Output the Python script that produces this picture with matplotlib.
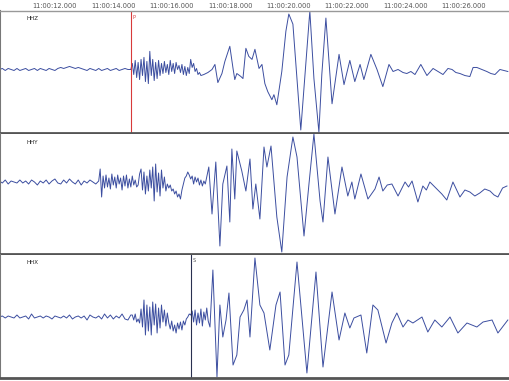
import numpy as np
import matplotlib.pyplot as plt

# seconds after 11:00:00
TICK_SECONDS = [12, 14, 16, 18, 20, 22, 24, 26]
TICK_LABELS = ['11:00:%02d.000' % s for s in TICK_SECONDS]
T_MIN, T_MAX = 10.12, 27.55

P_PICK = 14.62
S_PICK = 16.67

COR_TRACO = '#3c4ea0'

# ---- HHZ ----
HHZ_PRE_T0, HHZ_PRE_DT = 10.1, 0.1
HHZ_PRE = [0, 1, -1, 1, 0, -1, 1, -1, 0, 1, -1, 0, 1, -1, 1, 0, -1, 1, 0, -1,
           1, 2, 1, 2, 3, 2, 1, 2, 1, 0,
           -1, 1, 0, -1, 1, -1, 0, 1, -1, 0, 1, -1, 0, 1, 0, 0]
HHZ_CODA_T0, HHZ_CODA_DT = 14.6, 0.05
HHZ_CODA = [0, 6, -5, 9, -8, 7, -10, 10, -6,
            12, -12, 8, -14, 18, -6, 10, -11, 7, -9,
            9, -6, 6, -4, 8, -3, 5, -5, 9, -2,
            6, -4, 7, 0, 4, -3, 5, -5, 3, -6,
            2, -4, 10, 2, 6, -2, 1, -5, -3, -6]
HHZ_EV_T = [17.10, 17.24, 17.38, 17.48, 17.58, 17.72, 17.82, 17.99, 18.10, 18.16,
            18.23, 18.37, 18.44, 18.54, 18.64, 18.75, 18.85, 18.99, 19.09, 19.19,
            19.29, 19.43, 19.50, 19.60, 19.77, 19.91, 20.01, 20.15, 20.29, 20.42,
            20.60, 20.73, 20.87, 21.04, 21.14, 21.28, 21.38, 21.49, 21.73, 21.90,
            22.10, 22.27, 22.45, 22.58, 22.82, 23.03, 23.23, 23.44, 23.58, 23.75,
            23.92, 24.05, 24.19, 24.33, 24.53, 24.74, 24.95, 25.12, 25.29, 25.46,
            25.60, 25.73, 25.87, 26.04, 26.21, 26.32, 26.45, 26.62, 26.79, 26.93,
            27.07, 27.24, 27.38, 27.51]
HHZ_EV_A = [-5, -3, 0, 5, -13, -4, 8, 23, 1, -10,
            -4, -7, -9, 21, 13, 10, 20, 1, 5, -14,
            -22, -30, -25, -35, -2, 38, 55, 45, -9, -60,
            8, 58, -9, -62, -5, 51, 10, -34, 15, -15,
            9, -12, 5, -10, 15, 0, -17, 5, -2, 0,
            -3, -4, -2, -5, 5, -6, 1, -2, -5, 1,
            0, -3, -4, -6, -7, 2, 2, 0, -2, -4,
            -5, 0, -1, -2]

# ---- HHY ----
HHY_PRE_T0, HHY_PRE_DT = 10.1, 0.1
HHY_PRE = [1, -1, 2, -2, 1, 0, -1, 2, -1, 1, -2, 2, 0, -3, 1, -1, 2, -2, 1, 3,
           -1, -2, 2, -1, 3, 0, -2, 2, -3, 1, -1, 2, 0, -2, 1]
HHY_CODA_T0, HHY_CODA_DT = 13.55, 0.05
HHY_CODA = [13, -15, 6, -6, 7, -5, 4, -7, 8, -3, 5, -6, 7, -2, 4, -8, 6, -4, 7, -6,
            3, -5, 6, -3, 2, -5,
            -3, 8, 13, -8, 10, -12, 6, -9, 12, -6, 15, -19, 18, -10, 9, -14, 12, -6, 5, -9,
            -2, -6, -3, -9, -7, -12, -9, -15, -12, -17,
            -8, -2, 4, 6, 10, 7,
            3, 6, -2, 5, 0, 4, -3, 2, -4, 1, -2, 5]
HHY_EV_T = [17.27, 17.38, 17.51, 17.65, 17.75, 17.89, 17.99, 18.06, 18.16, 18.23,
            18.40, 18.54, 18.68, 18.78, 18.88, 19.02, 19.16, 19.26, 19.40, 19.60,
            19.77, 19.95, 20.15, 20.29, 20.53, 20.70, 20.87, 21.08, 21.18, 21.35,
            21.59, 21.83, 22.03, 22.17, 22.27, 22.48, 22.72, 22.96, 23.10, 23.23,
            23.38, 23.54, 23.75, 23.99, 24.11, 24.23, 24.43, 24.60, 24.72, 24.84,
            25.08, 25.25, 25.42, 25.63, 25.87, 26.04, 26.21, 26.38, 26.55, 26.72,
            26.90, 27.04, 27.17, 27.33, 27.48]
HHY_EV_A = [15, -32, 20, -64, -2, 16, -40, 33, -17, 31,
            11, -9, 23, -27, -2, -37, 35, 15, 36, -35,
            -70, 5, 45, 25, -54, -2, 48, -19, -40, 25,
            -32, 15, -14, 0, -17, 8, -17, -7, 5, -9,
            -3, -2, -14, 0, -5, 1, -20, -4, -8, 0,
            -7, -12, -18, 0, -15, -8, -10, -14, -11, -7,
            -9, -13, -15, -6, -4]

# ---- HHX ----
HHX_PRE_T0, HHX_PRE_DT = 10.1, 0.1
HHX_PRE = [0, 1, -1, 1, 0, -1, 2, -1, 0, 1, -2, 3, -1, 0, 1, -1, 1, 0, -2, 1,
           0, -1, 1, -1, 2, -2, 0, 1, -1, 1, -3, 2, 0, -1, 1, -2, 3, -1, 2, -2,
           1, -1, 3, -2, -3, 2]
HHX_CODA_T0, HHX_CODA_DT = 14.65, 0.05
HHX_CODA = [2, -3, 3, -5, -2, -6,
            8, -10, 17, -18, 12, -14, 10, -18, 15, -8, 13, -16, 9, -11, 12, -5, 7, -9, 4,
            -6, -12, -4, -14, -8, -16, -6, -12, -5, -13, -4, -8, -2,
            0, 3, 2, 6, -5, 7, -8, 4, -6, 8, -9, 5, -3, 9, -4]
HHX_EV_T = [17.31, 17.41, 17.55, 17.65, 17.75, 17.86, 17.96, 18.10, 18.23, 18.34,
            18.47, 18.58, 18.68, 18.85, 19.02, 19.16, 19.36, 19.57, 19.71, 19.88,
            20.01, 20.29, 20.63, 20.94, 21.18, 21.49, 21.73, 21.93, 22.10, 22.24,
            22.48, 22.68, 22.89, 23.06, 23.34, 23.54, 23.71, 23.92, 24.09, 24.26,
            24.57, 24.77, 25.01, 25.25, 25.53, 25.80, 26.11, 26.45, 26.66, 26.97,
            27.17, 27.51]
HHX_EV_A = [-10, 47, -60, 12, -20, -3, 24, -48, -38, 0,
            7, 17, -20, 59, 12, 4, -33, 12, 25, -48,
            -38, 55, -56, 45, -50, 25, -23, 4, -11, -1,
            2, -36, 12, 7, -26, -6, 4, -10, -3, -6,
            0, -15, -3, -10, 0, -16, -6, -10, -5, -3,
            -16, -3]

# painel: (rotulo, pre, coda, evento, ylim, topo px, base px)
PAINEIS = [
    ('HHZ', (HHZ_PRE_T0, HHZ_PRE_DT, HHZ_PRE), (HHZ_CODA_T0, HHZ_CODA_DT, HHZ_CODA),
     (HHZ_EV_T, HHZ_EV_A), (-63, 58), 11, 133),
    ('HHY', (HHY_PRE_T0, HHY_PRE_DT, HHY_PRE), (HHY_CODA_T0, HHY_CODA_DT, HHY_CODA),
     (HHY_EV_T, HHY_EV_A), (-72, 48), 134, 254),
    ('HHX', (HHX_PRE_T0, HHX_PRE_DT, HHX_PRE), (HHX_CODA_T0, HHX_CODA_DT, HHX_CODA),
     (HHX_EV_T, HHX_EV_A), (-61, 62), 255, 378),
]

W, H = 509, 381


def montar_traco(pre, coda, evento):
    t0, dt, v = pre
    t_pre = t0 + dt * np.arange(len(v))
    t1, dt1, v1 = coda
    t_coda = t1 + dt1 * np.arange(len(v1))
    t = np.concatenate([t_pre, t_coda, evento[0]])
    a = np.concatenate([v, v1, evento[1]])
    return t, a


fig = plt.figure(figsize=(W / 100, H / 100), dpi=100)
fig.patch.set_facecolor('white')

eixos = []
for i, (rotulo, pre, coda, evento, ylim, topo, base) in enumerate(PAINEIS):
    ax = fig.add_axes([0, 1 - base / H, 1, (base - topo) / H])
    t, a = montar_traco(pre, coda, evento)
    ax.plot(t, a, color=COR_TRACO, linewidth=0.7)
    ax.set_xlim(T_MIN, T_MAX)
    ax.set_ylim(*ylim)
    ax.set_yticks([])
    ax.spines['right'].set_visible(False)
    ax.spines['left'].set_color('#777777')
    ax.spines['left'].set_linewidth(1.5)
    ax.spines['bottom'].set_color('#555555')
    ax.spines['bottom'].set_linewidth(2)
    ax.spines['top'].set_visible(i == 0)
    ax.spines['top'].set_color('#999999')
    ax.spines['top'].set_linewidth(1)
    ax.text(0.052, 1 - 8 / (base - topo), rotulo, transform=ax.transAxes,
            fontsize=4, color='#222222', va='center', ha='left')
    if i == 0:
        ax.xaxis.tick_top()
        ax.set_xticks(TICK_SECONDS)
        ax.set_xticklabels(TICK_LABELS, fontsize=4.8, color='#555555')
        ax.tick_params(axis='x', length=0, pad=1.5)
    else:
        ax.set_xticks([])
    eixos.append(ax)

# picks
eixos[0].axvline(P_PICK, color='#d83a3a', linewidth=0.8)
eixos[0].text(P_PICK + 0.05, 54, 'P', fontsize=3.5, color='#d83a3a', va='top')
eixos[2].axvline(S_PICK, color='#2a3050', linewidth=0.8)
eixos[2].text(S_PICK + 0.05, 59, 'S', fontsize=3.5, color='#555555', va='top')

fig.savefig('out.png', dpi=100, facecolor='white')
